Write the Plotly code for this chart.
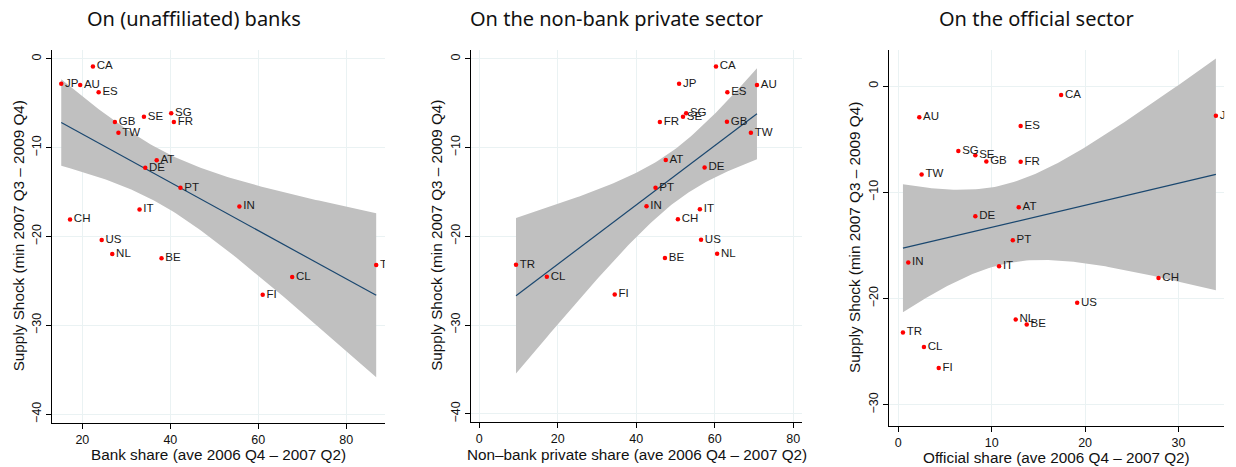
import numpy as np
import plotly.graph_objects as go

countries = ["CA", "JP", "AU", "ES", "GB", "SE", "SG", "FR", "TW", "AT", "DE",
             "PT", "IN", "IT", "CH", "US", "NL", "BE", "TR", "CL", "FI"]
supply_shock = [-0.85, -2.8, -2.95, -3.77, -7.1, -6.52, -6.12, -7.12, -8.33, -11.4, -12.25,
                -14.52, -16.62, -16.96, -18.07, -20.4, -21.97, -22.45, -23.2, -24.57, -26.55]
bank_share = [22.4, 15.2, 19.5, 23.7, 27.4, 34.0, 40.2, 40.8, 28.2, 36.9, 34.3,
              42.3, 55.7, 33.0, 17.2, 24.4, 26.8, 38.0, 86.8, 67.7, 61.0]
nonbank_share = [60.3, 50.9, 70.75, 63.2, 63.1, 51.9, 52.7, 46.0, 69.2, 47.5, 57.4,
                 44.9, 42.6, 56.2, 50.6, 56.5, 60.6, 47.3, 9.35, 17.2, 34.5]
official_share = [17.43, 34.0, 2.25, 13.1, 9.43, 8.25, 6.43, 13.1, 2.5, 12.9, 8.25,
                  12.26, 1.07, 10.79, 27.86, 19.15, 12.57, 13.75, 0.5, 2.75, 4.33]

panel_titles = ["On (unaffiliated) banks", "On the non-bank private sector", "On the official sector"]
x_titles = ["Bank share (ave 2006 Q4 \u2013 2007 Q2)",
            "Non\u2013bank private share (ave 2006 Q4 \u2013 2007 Q2)",
            "Official share (ave 2006 Q4 \u2013 2007 Q2)"]
y_title = "Supply Shock (min 2007 Q3 \u2013 2009 Q4)"
x_ticks = [[20, 40, 60, 80], [0, 20, 40, 60, 80], [0, 10, 20, 30]]
y_ticks = [[0, -10, -20, -30, -40], [0, -10, -20, -30, -40], [0, -10, -20, -30]]

W, H = 1236, 467
# layout geometry (pixels)
panels = [
    dict(x0=52, x1=385, ytop=50, ybot=422.7, xr=[13.1, 88.8], yr=[-40.96, 1.0],
         title_x=194, ytitle_x=18, xtitle_y=454),
    dict(x0=470.7, x1=802.3, ytop=50, ybot=421.7, xr=[-2.2, 82.3], yr=[-40.9, 1.0],
         title_x=616, ytitle_x=437, xtitle_y=454),
    dict(x0=889.3, x1=1224.3, ytop=50, ybot=426, xr=[-0.96, 34.9], yr=[-32.0, 3.39],
         title_x=1036, ytitle_x=855, xtitle_y=457.5),
]

xs_all = [bank_share, nonbank_share, official_share]
y = np.array(supply_shock)

GRID = "#eaf2f3"
BAND = "#c0c0c0"
LINE = "#1a476f"
SANS = "Liberation Sans, Arial, sans-serif"
TICKFONT = dict(family=SANS, size=12.5, color="#111111")

fig = go.Figure()
annotations = []
for i, (xv, p) in enumerate(zip(xs_all, panels)):
    xa = "x" if i == 0 else f"x{i+1}"
    ya = "y" if i == 0 else f"y{i+1}"
    x = np.array(xv)
    n = len(x)
    b1, b0 = np.polyfit(x, y, 1)
    resid = y - (b0 + b1 * x)
    s = np.sqrt(np.sum(resid ** 2) / (n - 2))
    sxx = np.sum((x - x.mean()) ** 2)
    grid = np.linspace(x.min(), x.max(), 100)
    fit = b0 + b1 * grid
    se = s * np.sqrt(1.0 / n + (grid - x.mean()) ** 2 / sxx)
    t = 2.093
    upper, lower = fit + t * se, fit - t * se

    fig.add_trace(go.Scatter(
        x=np.concatenate([grid, grid[::-1]]), y=np.concatenate([upper, lower[::-1]]),
        fill="toself", fillcolor=BAND, line=dict(width=0), mode="lines",
        hoverinfo="skip", showlegend=False, xaxis=xa, yaxis=ya))
    fig.add_trace(go.Scatter(
        x=grid, y=fit, mode="lines", line=dict(color=LINE, width=1.2),
        showlegend=False, xaxis=xa, yaxis=ya))
    fig.add_trace(go.Scatter(
        x=x, y=y, mode="markers+text", text=countries, textposition="middle right",
        textfont=dict(family=SANS, size=11.5, color="#1a1a1a"),
        marker=dict(color="#ff0000", size=4.5), cliponaxis=True,
        showlegend=False, xaxis=xa, yaxis=ya))

    common = dict(showgrid=True, gridcolor=GRID, gridwidth=1.2, zeroline=False,
                  showline=True, linecolor="#000000", linewidth=1.2,
                  ticks="outside", ticklen=5, tickcolor="#000000", tickwidth=1,
                  tickfont=TICKFONT, automargin=False)
    xaxis = dict(common, domain=[p["x0"] / W, p["x1"] / W], range=p["xr"],
                 tickvals=x_ticks[i], anchor=ya)
    yaxis = dict(common, domain=[(H - p["ybot"]) / H, (H - p["ytop"]) / H], range=p["yr"],
                 tickvals=y_ticks[i], ticktext=[str(v).replace("-", "\u2212") for v in y_ticks[i]],
                 tickangle=-90, anchor=xa)
    key = "" if i == 0 else str(i + 1)
    fig.layout["xaxis" + key] = xaxis
    fig.layout["yaxis" + key] = yaxis

    annotations.append(dict(text=panel_titles[i], x=p["title_x"] / W, y=1 - 19 / H,
                            xref="paper", yref="paper", showarrow=False,
                            xanchor="center", yanchor="middle",
                            font=dict(family="Noto Sans, Open Sans, sans-serif", size=20, color="#111111")))
    annotations.append(dict(text=x_titles[i], x=(p["x0"] + p["x1"]) / 2 / W, y=1 - p["xtitle_y"] / H,
                            xref="paper", yref="paper", showarrow=False,
                            xanchor="center", yanchor="middle",
                            font=dict(family=SANS, size=15.3, color="#111111")))
    annotations.append(dict(text=y_title, x=p["ytitle_x"] / W,
                            y=1 - ((p["ytop"] + p["ybot"]) / 2) / H,
                            xref="paper", yref="paper", showarrow=False, textangle=-90,
                            xanchor="center", yanchor="middle",
                            font=dict(family=SANS, size=15.3, color="#111111")))

fig.update_layout(width=W, height=H, margin=dict(l=0, r=0, t=0, b=0),
                  paper_bgcolor="white", plot_bgcolor="white",
                  annotations=annotations, showlegend=False)
fig.write_html("out.html")
